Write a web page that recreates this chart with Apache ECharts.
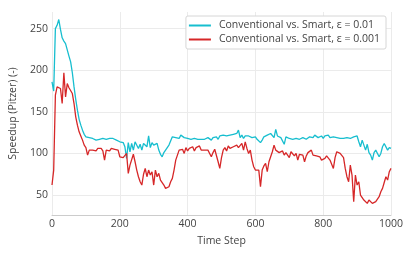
<!DOCTYPE html>
<html>
<head>
<meta charset="utf-8">
<script src="https://cdn.jsdelivr.net/npm/echarts@6/dist/echarts.min.js"></script>
<style>
html,body{margin:0;padding:0;background:#fff;}
#chart{width:415px;height:256px;}
</style>
</head>
<body>
<div id="chart"></div>
<script>
const timeSteps = [
0,5,10,15,20,25,30,35,40,45,50,55,60,65,70,75,80,85,90,95,100,
105,110,115,120,125,130,135,140,145,150,155,160,165,170,175,180,185,190,195,200,
205,210,215,220,225,230,235,240,245,250,255,260,265,270,275,280,285,290,295,300,
305,310,315,320,325,330,335,340,345,350,355,360,365,370,375,380,385,390,395,400,
405,410,415,420,425,430,435,440,445,450,455,460,465,470,475,480,485,490,495,500,
505,510,515,520,525,530,535,540,545,550,555,560,565,570,575,580,585,590,595,600,
605,610,615,620,625,630,635,640,645,650,655,660,665,670,675,680,685,690,695,700,
705,710,715,720,725,730,735,740,745,750,755,760,765,770,775,780,785,790,795,800,
805,810,815,820,825,830,835,840,845,850,855,860,865,870,875,880,885,890,895,900,
905,910,915,920,925,930,935,940,945,950,955,960,965,970,975,980,985,990,995,1000
];
const seriesNames = ['Conventional vs. Smart, \u03b5 = 0.01', 'Conventional vs. Smart, \u03b5 = 0.001'];
const speedupEps01 = [
186,175,250,254,261,249,239,235,232,233,217,210,197,180,165,152,141,134,128,123,120,
118,119,117,118,118,116,118,117,119,118,116,117,119,118,116,118,117,116,115,114,
115,113,108,94,113,102,112,104,114,115,106,111,104,112,110,108,121,107,113,110,
111,112,104,99,96,101,104,106,110,112,120,122,119,121,118,122,120,119,121,118,
120,117,119,118,120,117,118,117,118,117,116,119,117,116,119,118,120,117,121,119,
122,124,121,119,122,120,123,121,124,128,119,122,118,121,119,121,120,119,118,120,
117,115,113,116,120,121,122,120,124,122,119,129,121,123,119,120,111,120,121,118,
119,117,119,118,119,117,118,119,118,117,119,120,121,119,122,123,119,118,121,118,
121,120,122,119,121,120,121,119,120,118,119,118,117,119,118,118,119,120,122,121,
114,108,116,110,104,111,101,98,92,101,104,106,96,100,108,112,110,104,107,106
];
const speedupEps001 = [
62,80,170,180,182,178,160,197,168,184,179,178,172,160,144,134,126,121,116,110,107,
98,104,106,104,105,103,106,104,106,103,92,104,105,103,106,104,105,103,104,96,
97,95,96,100,76,86,84,99,90,80,72,66,62,75,82,72,80,74,78,62,
80,72,76,68,70,62,58,56,60,66,70,80,92,98,104,102,105,100,107,103,
106,104,108,103,107,106,109,104,102,104,102,104,100,96,101,105,103,90,82,95,
104,107,103,109,106,107,108,106,110,107,109,112,104,114,106,100,104,92,84,80,
78,80,60,80,85,88,78,90,96,102,110,104,102,101,100,103,98,101,100,95,
102,104,97,100,92,99,97,98,90,97,101,100,104,98,100,97,99,96,92,90,
94,97,95,92,90,82,95,102,101,100,99,95,82,72,66,86,74,42,74,62,
66,50,52,44,42,40,44,42,40,38,42,45,48,54,58,65,72,68,78,82
];

const FONT = '"Open Sans", Lato, sans-serif';
const chart = echarts.init(document.getElementById('chart'), null, {renderer: 'canvas'});
const pair = (ys) => timeSteps.map((t, i) => [t, ys[i]]);
chart.setOption({
  animation: false,
  backgroundColor: '#ffffff',
  textStyle: {fontFamily: FONT},
  grid: {left: 49, right: 24, top: 12, bottom: 41, containLabel: false},
  legend: {
    orient: 'vertical',
    right: 29, top: 16,
    padding: [4, 6, 4, 3],
    itemGap: 3,
    itemWidth: 22, itemHeight: 2,
    icon: 'rect',
    borderColor: '#d6d6d6', borderWidth: 1, borderRadius: 2,
    backgroundColor: '#ffffff',
    textStyle: {fontFamily: FONT, fontSize: 10.5, color: '#444', padding: [0, 0, 0, 3]},
    data: seriesNames
  },
  xAxis: {
    type: 'value', min: 0, max: 1000, interval: 200,
    name: 'Time Step', nameLocation: 'middle', nameGap: 21,
    nameTextStyle: {fontFamily: FONT, fontSize: 10.5, color: '#444'},
    axisLine: {show: true, lineStyle: {color: '#cccccc'}},
    axisTick: {show: false},
    axisLabel: {margin: 4, fontSize: 10.5, color: '#444', fontFamily: FONT, formatter: (v) => String(v)},
    splitLine: {show: true, lineStyle: {color: '#ebebeb'}}
  },
  yAxis: {
    type: 'value', min: 26, max: 270,
    name: 'Speedup (Pitzer) (-)', nameLocation: 'middle', nameGap: 33,
    nameTextStyle: {fontFamily: FONT, fontSize: 10.5, color: '#444'},
    axisLine: {show: false},
    axisTick: {show: false},
    axisLabel: {margin: 4, fontSize: 10.5, color: '#444', fontFamily: FONT, showMinLabel: false, showMaxLabel: false, formatter: (v) => String(v)},
    splitLine: {show: true, showMinLine: false, showMaxLine: false, lineStyle: {color: '#ebebeb'}}
  },
  series: [
    {name: seriesNames[0], type: 'line', data: pair(speedupEps01), symbol: 'none',
     lineStyle: {width: 1.3, color: '#17becf'}, itemStyle: {color: '#17becf'}},
    {name: seriesNames[1], type: 'line', data: pair(speedupEps001), symbol: 'none',
     lineStyle: {width: 1.3, color: '#d62728'}, itemStyle: {color: '#d62728'}}
  ]
});
</script>
</body>
</html>
